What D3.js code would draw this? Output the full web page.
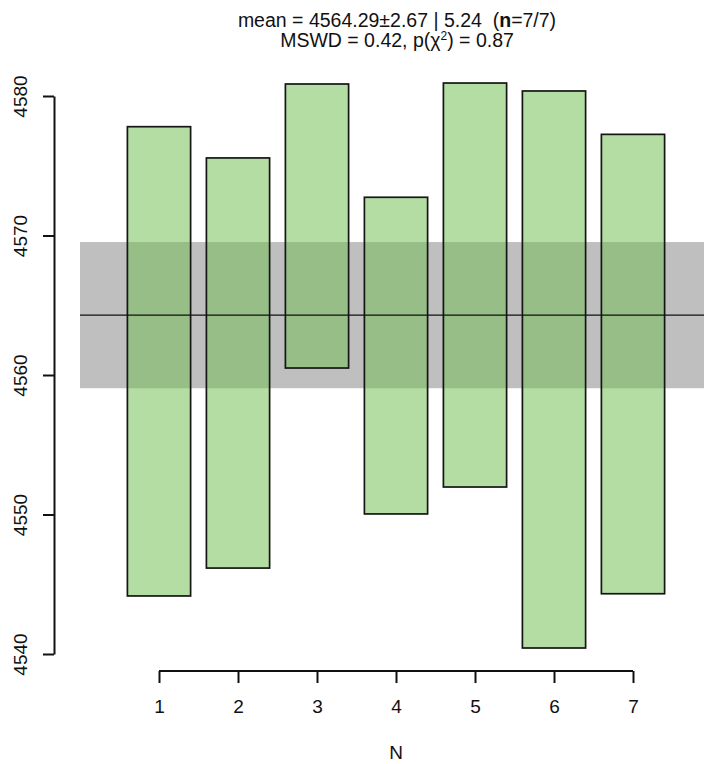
<!DOCTYPE html>
<html>
<head>
<meta charset="utf-8">
<script src="https://cdn.jsdelivr.net/npm/d3@7"></script>
<style>
  body { margin: 0; background: #fff; }
  svg text { font-family: "Liberation Sans", Arial, sans-serif; fill: #111; white-space: pre; }
</style>
</head>
<body>
<svg id="chart" width="704" height="764"></svg>
<script>
// aliquot number and the upper/lower edge of each error box
var aliquots = [1, 2, 3, 4, 5, 6, 7];
var lower = [4544.16, 4546.16, 4560.50, 4550.04, 4551.97, 4540.43, 4544.32];
var upper = [4577.80, 4575.56, 4580.86, 4572.74, 4580.93, 4580.36, 4577.25];
var yTicks = [4540, 4550, 4560, 4570, 4580];

// weighted mean and its band
var mean = 4564.29;
var band = 5.24;

var svg = d3.select("#chart");

var x = d3.scaleLinear().domain([0, 8]).range([80, 712]);
var y = d3.scaleLinear().domain([4540, 4580]).range([654, 96]);

// grey band for the mean
svg.append("rect")
  .attr("x", x(0))
  .attr("width", x(8) - x(0))
  .attr("y", y(mean + band))
  .attr("height", y(mean - band) - y(mean + band))
  .attr("fill", "#c0bfc0");

// error boxes
svg.selectAll(".box")
  .data(aliquots)
  .enter().append("rect")
  .attr("class", "box")
  .attr("x", function (d) { return x(d - 0.4); })
  .attr("width", x(0.8) - x(0))
  .attr("y", function (d, i) { return y(upper[i]); })
  .attr("height", function (d, i) { return y(lower[i]) - y(upper[i]); })
  .attr("fill", "rgba(112,190,80,0.52)")
  .attr("stroke", "#151515")
  .attr("stroke-width", 1.7);

// mean line
svg.append("line")
  .attr("x1", x(0)).attr("x2", x(8))
  .attr("y1", y(mean)).attr("y2", y(mean))
  .attr("stroke", "#111")
  .attr("stroke-width", 1.1);

// y axis
var yAxis = svg.append("g")
  .attr("transform", "translate(54,0)")
  .call(d3.axisLeft(y).tickValues(yTicks).tickFormat(d3.format("d")).tickSize(11).tickSizeOuter(0));
yAxis.attr("font-size", null).attr("font-family", null);
yAxis.select(".domain").attr("stroke", "#111").attr("stroke-width", 2);
yAxis.selectAll(".tick line").attr("stroke", "#111").attr("stroke-width", 2);
yAxis.selectAll(".tick text")
  .attr("font-size", 19)
  .attr("transform", "rotate(-90)")
  .attr("x", 0)
  .attr("dy", 0)
  .attr("y", -27)
  .attr("text-anchor", "middle");

// x axis
var xAxis = svg.append("g")
  .attr("transform", "translate(0,671)")
  .call(d3.axisBottom(x).tickValues(aliquots).tickFormat(d3.format("d")).tickSize(12).tickSizeOuter(0));
xAxis.attr("font-size", null).attr("font-family", null);
xAxis.select(".domain").attr("d", "M" + x(1) + ",0H" + x(7)).attr("stroke", "#111").attr("stroke-width", 2);
xAxis.selectAll(".tick line").attr("stroke", "#111").attr("stroke-width", 2);
xAxis.selectAll(".tick text").attr("font-size", 19).attr("y", 42).attr("dy", 0);

svg.append("text")
  .attr("x", x(4)).attr("y", 759)
  .attr("text-anchor", "middle")
  .attr("font-size", 19)
  .text("N");

// title
var t1 = svg.append("text")
  .attr("x", 397).attr("y", 27)
  .attr("text-anchor", "middle")
  .attr("font-size", 19.5);
t1.append("tspan").text("mean = 4564.29\u00b12.67 | 5.24  (");
t1.append("tspan").attr("font-weight", "bold").text("n");
t1.append("tspan").text("=7/7)");

var t2 = svg.append("text")
  .attr("x", 397).attr("y", 47)
  .attr("text-anchor", "middle")
  .attr("font-size", 19.5);
t2.append("tspan").text("MSWD = 0.42, p(\u03c7");
t2.append("tspan").attr("font-size", 12).attr("dy", -7).text("2");
t2.append("tspan").attr("dy", 7).text(") = 0.87");
</script>
</body>
</html>
